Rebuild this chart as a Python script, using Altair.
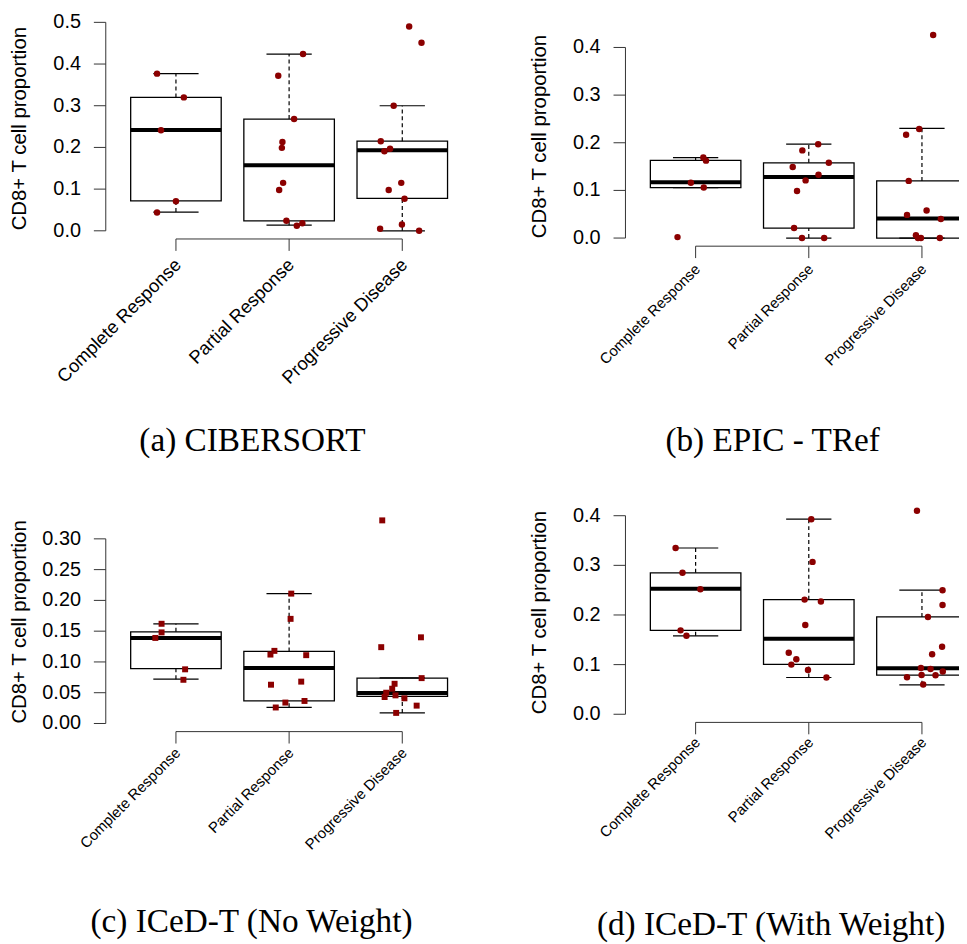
import altair as alt
import pandas as pd

GROUPS = ["Complete Response", "Partial Response", "Progressive Disease"]
Y_TITLE = "CD8+ T cell proportion"

# ---------------- (a) CIBERSORT ----------------
A_CAPTION = "(a) CIBERSORT"
A_WLO = [0.045, 0.0135, 0.0]
A_Q1 = [0.072, 0.024, 0.078]
A_MED = [0.242, 0.157, 0.193]
A_Q3 = [0.320, 0.268, 0.215]
A_WHI = [0.377, 0.424, 0.300]
A_CR = [0.377, 0.320, 0.241, 0.071, 0.044]
A_CR_J = [-0.167, 0.070, -0.132, 0.0, -0.167]
A_PR = [0.424, 0.372, 0.268, 0.213, 0.199, 0.115, 0.098, 0.024, 0.012, 0.018]
A_PR_J = [0.123, -0.096, 0.044, -0.059, -0.064, -0.053, -0.088, -0.024, 0.068, 0.117]
A_PD = [0.490, 0.451, 0.300, 0.215, 0.191, 0.197, 0.115, 0.098, 0.077, 0.015, 0.005, 0.0]
A_PD_J = [0.061, 0.170, -0.076, -0.190, -0.158, -0.108, -0.009, -0.120, 0.020, -0.003, -0.196, 0.149]
A_TICKS = [0.0, 0.1, 0.2, 0.3, 0.4, 0.5]

# ---------------- (b) EPIC - TRef ----------------
B_CAPTION = "(b) EPIC - TRef"
B_WLO = [0.106, 0.0, 0.0]
B_Q1 = [0.106, 0.021, 0.0]
B_MED = [0.117, 0.128, 0.041]
B_Q3 = [0.163, 0.158, 0.120]
B_WHI = [0.169, 0.197, 0.230]
B_CR = [0.169, 0.1625, 0.116, 0.106, 0.002]
B_CR_J = [0.068, 0.092, -0.042, 0.072, -0.160]
B_PR = [0.197, 0.184, 0.149, 0.158, 0.133, 0.121, 0.0986, 0.021, 0.0, 0.0]
B_PR_J = [0.083, -0.057, -0.142, 0.177, 0.086, -0.028, -0.104, -0.130, -0.060, 0.136]
B_PD = [0.426, 0.229, 0.217, 0.120, 0.058, 0.0486, 0.040, 0.006, 0.0, 0.0, 0.0]
B_PD_J = [0.099, -0.024, -0.140, -0.117, 0.041, -0.132, 0.167, -0.053, -0.035, -0.009, 0.158]
B_TICKS = [0.0, 0.1, 0.2, 0.3, 0.4]

# ---------------- (c) ICeD-T (No Weight) ----------------
C_CAPTION = "(c) ICeD-T (No Weight)"
C_WLO = [0.072, 0.0263, 0.0172]
C_Q1 = [0.089, 0.0366, 0.044]
C_MED = [0.139, 0.090, 0.0495]
C_Q3 = [0.149, 0.117, 0.0737]
C_WHI = [0.162, 0.211, 0.074]
C_CR = [0.162, 0.148, 0.139, 0.088, 0.071]
C_CR_J = [-0.127, -0.127, -0.182, 0.081, 0.066]
C_PR = [0.211, 0.170, 0.112, 0.118, 0.111, 0.063, 0.068, 0.034, 0.026, 0.0366]
C_PR_J = [0.019, 0.013, -0.165, -0.130, 0.151, -0.160, 0.107, -0.033, -0.118, 0.136]
C_PD = [0.330, 0.124, 0.140, 0.0737, 0.0645, 0.0565, 0.050, 0.043, 0.0457, 0.0409, 0.029, 0.0172]
C_PD_J = [-0.177, -0.186, 0.165, 0.171, -0.068, -0.089, -0.142, -0.156, -0.060, 0.019, 0.127, -0.054]
C_TICKS = [0.0, 0.05, 0.10, 0.15, 0.20, 0.25, 0.30]

# ---------------- (d) ICeD-T (With Weight) ----------------
D_CAPTION = "(d) ICeD-T (With Weight)"
D_WLO = [0.158, 0.074, 0.0593]
D_Q1 = [0.169, 0.1007, 0.0787]
D_MED = [0.253, 0.152, 0.0927]
D_Q3 = [0.285, 0.231, 0.196]
D_WHI = [0.335, 0.393, 0.250]
D_CR = [0.335, 0.285, 0.252, 0.169, 0.158]
D_CR_J = [-0.177, -0.116, 0.042, -0.133, -0.081]
D_PR = [0.393, 0.307, 0.231, 0.227, 0.180, 0.124, 0.111, 0.100, 0.089, 0.074]
D_PR_J = [0.022, 0.033, -0.037, 0.107, -0.031, -0.177, -0.110, -0.154, -0.007, 0.156]
D_PD = [0.410, 0.250, 0.220, 0.196, 0.136, 0.121, 0.0933, 0.091, 0.086, 0.079, 0.0787, 0.0747, 0.060]
D_PD_J = [-0.044, 0.182, 0.182, 0.053, 0.178, 0.090, -0.009, 0.076, 0.184, -0.003, 0.120, -0.132, 0.011]
D_TICKS = [0.0, 0.1, 0.2, 0.3, 0.4]

# ---------------- layout (pixels, page coordinates) ----------------
ORIGIN_X = 8      # page x where the view starts
ORIGIN_Y = 9      # nominal page y of the view top
VW = 958          # one shared view for the whole figure
VH = 935
PX_PER_X = 114    # pixels per category unit
X0 = 0.38         # left end of each panel's x range (R: 0.5 - 4%)
BOXW = 0.8
STAPLE = 0.4
TICK = 12
RED = "#8B0000"
AXC = "#333333"
SANS = "Liberation Sans"
SERIF = "Liberation Serif"


def panel(caption, wlo, q1, med, q3, whi, groups_pts, ticks, fmt,
          left_px, zero_px, ppu, xlab_size, xlab_off, cap_xy, clip, shape):
    summ = pd.DataFrame({"x": [1, 2, 3], "wlo": wlo, "q1": q1, "med": med, "q3": q3, "whi": whi})
    rows = []
    for gi, (vals, jit) in enumerate(groups_pts):
        for v, j in zip(vals, jit):
            rows.append({"g": gi + 1, "v": v, "j": j})
    pts = pd.DataFrame(rows)
    vmax = max(pts["v"])
    ylim_lo = -0.04 * vmax          # bottom of R's plot region
    ymid = vmax / 2.0               # centre of R's plot region

    x_lo = X0 - (left_px - ORIGIN_X) / PX_PER_X
    xs = alt.Scale(domain=[x_lo, x_lo + VW / PX_PER_X], nice=False, zero=False)
    y_hi = (zero_px - ORIGIN_Y) / ppu
    ys = alt.Scale(domain=[y_hi - VH / ppu, y_hi], nice=False, zero=False)

    def X(f):
        return alt.X(f, scale=xs, axis=None)

    def Y(f):
        return alt.Y(f, scale=ys, axis=None)

    base = alt.Chart(summ).transform_calculate(
        xl=f"datum.x - {BOXW/2}", xr=f"datum.x + {BOXW/2}",
        cl=f"datum.x - {STAPLE/2}", cr=f"datum.x + {STAPLE/2}")

    box = base.mark_rect(fill="white", stroke="black", strokeWidth=1.3, clip=clip).encode(
        x=X("xl:Q"), x2="xr:Q", y=Y("q1:Q"), y2="q3:Q")
    wh_up = base.mark_rule(color="black", strokeWidth=1.2, strokeDash=[4, 3], clip=clip).encode(
        x=X("x:Q"), y=Y("q3:Q"), y2="whi:Q")
    wh_lo = base.mark_rule(color="black", strokeWidth=1.2, strokeDash=[4, 3], clip=clip).encode(
        x=X("x:Q"), y=Y("wlo:Q"), y2="q1:Q")
    cap_up = base.mark_rule(color="black", strokeWidth=1.2, clip=clip).encode(
        x=X("cl:Q"), x2="cr:Q", y=Y("whi:Q"))
    cap_lo = base.mark_rule(color="black", strokeWidth=1.2, clip=clip).encode(
        x=X("cl:Q"), x2="cr:Q", y=Y("wlo:Q"))
    median = base.mark_rule(color="black", strokeWidth=4, clip=clip).encode(
        x=X("xl:Q"), x2="xr:Q", y=Y("med:Q"))

    pbase = alt.Chart(pts).transform_calculate(px="datum.g + datum.j")
    if shape == "square":
        pmark = pbase.mark_square(size=36, color=RED, opacity=1, clip=clip)
    else:
        pmark = pbase.mark_circle(size=42, color=RED, opacity=1, clip=clip)
    points = pmark.encode(x=X("px:Q"), y=Y("v:Q"))

    # R-style y axis: line from first to last tick, ticks, horizontal labels
    yax = pd.DataFrame({"v": ticks, "x0": X0})
    yline = alt.Chart(pd.DataFrame({"x0": [X0], "a": [ticks[0]], "b": [ticks[-1]]})).mark_rule(
        color=AXC, strokeWidth=1).encode(x=X("x0:Q"), y=Y("a:Q"), y2="b:Q")
    yticks = alt.Chart(yax).mark_rule(color=AXC, strokeWidth=1, x2Offset=-TICK).encode(
        x=X("x0:Q"), x2="x0:Q", y=Y("v:Q"))
    ylabels = alt.Chart(yax).mark_text(
        align="right", baseline="middle", font=SANS, fontSize=20, color="black",
        xOffset=-(TICK + 13)).encode(
        x=X("x0:Q"), y=Y("v:Q"), text=alt.Text("v:Q", format=fmt))

    # R-style x axis: bracket from first to last group, ticks, rotated labels
    xax = pd.DataFrame({"g": [1, 2, 3], "lab": GROUPS, "yb": ylim_lo})
    bracket = alt.Chart(pd.DataFrame({"a": [1], "b": [3], "yb": [ylim_lo]})).mark_rule(
        color=AXC, strokeWidth=1).encode(x=X("a:Q"), x2="b:Q", y=Y("yb:Q"))
    xticks = alt.Chart(xax).mark_rule(color=AXC, strokeWidth=1, y2Offset=TICK).encode(
        x=X("g:Q"), y=Y("yb:Q"), y2="yb:Q")
    xlabels = alt.Chart(xax).mark_text(
        angle=315, align="right", baseline="middle", font=SANS, fontSize=xlab_size,
        color="black", xOffset=2, yOffset=xlab_off).encode(
        x=X("g:Q"), y=Y("yb:Q"), text="lab:N")

    ytitle = alt.Chart(pd.DataFrame({"t": [Y_TITLE], "x0": [X0], "y": [ymid]})).mark_text(
        angle=270, align="center", baseline="middle", font=SANS, fontSize=20.5,
        color="black", xOffset=-86).encode(
        x=X("x0:Q"), y=Y("y:Q"), text="t:N")
    cap = alt.Chart(pd.DataFrame({"t": [caption]})).mark_text(
        align="center", baseline="alphabetic", font=SERIF, fontSize=33.5,
        color="black").encode(
        x=alt.value(cap_xy[0] - ORIGIN_X), y=alt.value(cap_xy[1] - ORIGIN_Y), text="t:N")

    return alt.layer(box, wh_up, wh_lo, cap_up, cap_lo, median, points,
                     yline, yticks, ylabels, bracket, xticks, xlabels, ytitle, cap)


pa = panel(A_CAPTION, A_WLO, A_Q1, A_MED, A_Q3, A_WHI,
           [(A_CR, A_CR_J), (A_PR, A_PR_J), (A_PD, A_PD_J)], A_TICKS, ".1f",
           left_px=106.5, zero_px=227.0, ppu=420, xlab_size=18.5, xlab_off=23,
           cap_xy=(254.2, 449), clip=False, shape="circle")
pb = panel(B_CAPTION, B_WLO, B_Q1, B_MED, B_Q3, B_WHI,
           [(B_CR, B_CR_J), (B_PR, B_PR_J), (B_PD, B_PD_J)], B_TICKS, ".1f",
           left_px=630, zero_px=234.3, ppu=480, xlab_size=15, xlab_off=20.5,
           cap_xy=(778.3, 449), clip=True, shape="circle")
pc = panel(C_CAPTION, C_WLO, C_Q1, C_MED, C_Q3, C_WHI,
           [(C_CR, C_CR_J), (C_PR, C_PR_J), (C_PD, C_PD_J)], C_TICKS, ".2f",
           left_px=106.5, zero_px=723.3, ppu=620, xlab_size=15, xlab_off=19,
           cap_xy=(253.3, 933), clip=False, shape="square")
pd_ = panel(D_CAPTION, D_WLO, D_Q1, D_MED, D_Q3, D_WHI,
            [(D_CR, D_CR_J), (D_PR, D_PR_J), (D_PD, D_PD_J)], D_TICKS, ".1f",
            left_px=630, zero_px=714.0, ppu=500, xlab_size=15, xlab_off=17.5,
            cap_xy=(776.7, 936), clip=True, shape="circle")

chart = alt.layer(pa, pb, pc, pd_).resolve_scale(
    x="independent", y="independent").properties(
    width=VW, height=VH, padding=0, background="white").configure_view(
    strokeWidth=0, strokeOpacity=0)

chart.save("out.html", embed_options={"renderer": "svg", "actions": False})
